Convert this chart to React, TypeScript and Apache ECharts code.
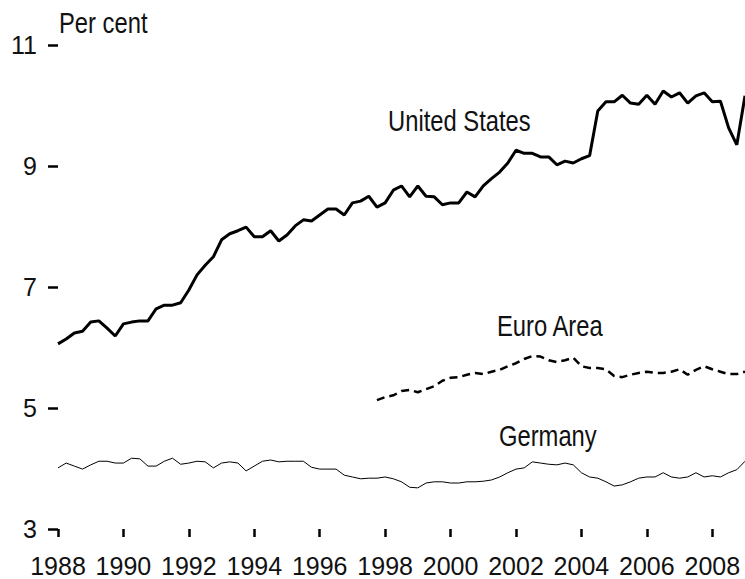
import React, { useEffect, useRef } from "react";
import * as echarts from "echarts";

const START_YEAR = 1988;
const EURO_START_INDEX = 39; // 1997 Q4

const unitedStates = [
  6.06, 6.14, 6.24, 6.27, 6.42, 6.44, 6.32, 6.19, 6.39, 6.42,
  6.44, 6.44, 6.64, 6.7, 6.7, 6.74, 6.95, 7.2, 7.36, 7.5,
  7.78, 7.88, 7.93, 7.99, 7.83, 7.83, 7.93, 7.76, 7.86, 8.01,
  8.11, 8.09, 8.19, 8.29, 8.29, 8.19, 8.39, 8.42, 8.5, 8.32,
  8.39, 8.6, 8.67, 8.49, 8.67, 8.5, 8.49, 8.36, 8.39, 8.39,
  8.57, 8.49, 8.67, 8.79, 8.9, 9.05, 9.26, 9.21, 9.21, 9.15,
  9.15, 9.02, 9.08, 9.05, 9.12, 9.17, 9.91, 10.06, 10.06, 10.17,
  10.04, 10.02, 10.17, 10.02, 10.24, 10.14, 10.21, 10.04, 10.16, 10.21,
  10.06, 10.07, 9.63, 9.35, 10.16,
];

const germany = [
  4.01, 4.09, 4.04, 3.99, 4.06, 4.12, 4.12, 4.09, 4.09, 4.17,
  4.16, 4.04, 4.04, 4.12, 4.17, 4.07, 4.09, 4.12, 4.11, 4.01,
  4.09, 4.11, 4.09, 3.96, 4.04, 4.12, 4.14, 4.11, 4.12, 4.12,
  4.12, 4.02, 3.99, 3.99, 3.99, 3.89, 3.86, 3.83, 3.84, 3.84,
  3.86, 3.83, 3.78, 3.69, 3.68, 3.76, 3.78, 3.78, 3.76, 3.76,
  3.78, 3.78, 3.79, 3.81, 3.86, 3.93, 3.99, 4.01, 4.11, 4.09,
  4.07, 4.06, 4.09, 4.06, 3.93, 3.86, 3.84, 3.78, 3.71, 3.73,
  3.78, 3.84, 3.86, 3.86, 3.93, 3.86, 3.84, 3.86, 3.93, 3.86,
  3.88, 3.86, 3.93, 3.98, 4.12,
];

const euroArea = [
  5.13, 5.18, 5.21, 5.28, 5.3, 5.26, 5.31, 5.36, 5.45, 5.5,
  5.51, 5.55, 5.58, 5.56, 5.6, 5.63, 5.69, 5.74, 5.81, 5.86,
  5.85, 5.79, 5.76, 5.79, 5.83, 5.69, 5.66, 5.66, 5.64, 5.53,
  5.51, 5.55, 5.58, 5.6, 5.58, 5.58, 5.6, 5.64, 5.55, 5.63,
  5.69, 5.64, 5.6, 5.56, 5.56, 5.6,
];

const xTickYears = [1988, 1990, 1992, 1994, 1996, 1998, 2000, 2002, 2004, 2006, 2008];
const yTicks = [3, 5, 7, 9, 11];

const FONT = '"Liberation Sans", Arial, sans-serif';
const NARROW = 0.82;

const quarterX = (i: number) => START_YEAR + i / 4;

const label = (text: string, x: number, y: number) => ({
  type: "text",
  x,
  y,
  scaleX: NARROW,
  style: {
    text,
    fill: "#111",
    font: `29px ${FONT}`,
    textVerticalAlign: "top",
  },
});

export default function App() {
  const ref = useRef<HTMLDivElement>(null);
  useEffect(() => {
    if (!ref.current) return;
    const chart = echarts.init(ref.current, null, { renderer: "svg" });
    const usData = unitedStates.map((v, i) => [quarterX(i), v]);
    const deData = germany.map((v, i) => [quarterX(i), v]);
    const euData = euroArea.map((v, i) => [quarterX(i + EURO_START_INDEX), v]);
    chart.setOption({
      animation: false,
      backgroundColor: "#ffffff",
      grid: { left: 58, right: 0, top: 45, bottom: 50, containLabel: false },
      xAxis: {
        type: "value",
        min: 1988,
        max: 2009,
        interval: 2,
        axisLine: { show: false },
        splitLine: { show: false },
        axisTick: {
          show: true,
          length: 8,
          inside: false,
          customValues: xTickYears,
          lineStyle: { color: "#000", width: 2.5 },
        },
        axisLabel: {
          customValues: xTickYears,
          margin: 24,
          color: "#111",
          fontSize: 25,
          fontFamily: FONT,
          formatter: (v: number) => String(v),
        },
      },
      yAxis: {
        type: "value",
        min: 3,
        max: 11,
        interval: 2,
        axisLine: { show: false },
        splitLine: { show: false },
        axisTick: {
          show: true,
          length: 10,
          customValues: yTicks,
          lineStyle: { color: "#000", width: 2.5 },
        },
        axisLabel: {
          customValues: yTicks,
          margin: 21,
          color: "#111",
          fontSize: 25,
          fontFamily: FONT,
        },
      },
      series: [
        {
          name: "United States",
          type: "line",
          data: usData,
          showSymbol: false,
          lineStyle: { color: "#000", width: 3 },
        },
        {
          name: "Euro Area",
          type: "line",
          data: euData,
          showSymbol: false,
          lineStyle: { color: "#000", width: 2.5, type: [8, 5] },
        },
        {
          name: "Germany",
          type: "line",
          data: deData,
          showSymbol: false,
          lineStyle: { color: "#000", width: 1 },
        },
      ],
      graphic: [
        label("Per cent", 59, 9),
        label("United States", 388, 107),
        label("Euro Area", 497, 312),
        label("Germany", 499, 422),
      ],
    });
    return () => chart.dispose();
  }, []);
  return (
    <div
      ref={ref}
      style={{ position: "fixed", left: 0, top: 0, width: 745, height: 579 }}
    />
  );
}
